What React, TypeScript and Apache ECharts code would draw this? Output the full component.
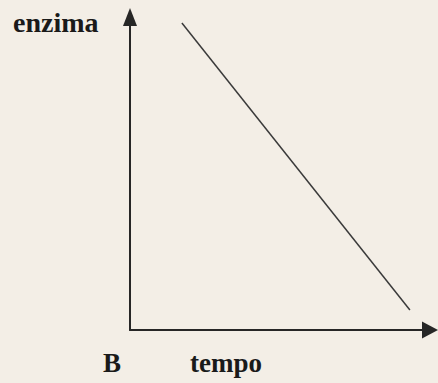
import React, { useEffect, useRef } from "react";
import * as echarts from "echarts";

const xValues = [17.3, 93.3];
const yValues = [98.1, 6.4];
const yLabel = "enzima";
const xLabel = "tempo";
const panelLabel = "B";

export default function App() {
  const ref = useRef<HTMLDivElement>(null);
  useEffect(() => {
    document.body.style.margin = "0";
    const chart = echarts.init(ref.current!, null, { renderer: "svg" });
    chart.setOption({
      animation: false,
      backgroundColor: "#f3eee6",
      grid: { left: 130, top: 17, right: 8, bottom: 53 },
      xAxis: {
        type: "value",
        min: 0,
        max: 100,
        axisLine: {
          show: true,
          onZero: false,
          symbol: ["none", "triangle"],
          symbolSize: [17, 16],
          lineStyle: { color: "#262626", width: 2 },
        },
        axisTick: { show: false },
        axisLabel: { show: false },
        splitLine: { show: false },
      },
      yAxis: {
        type: "value",
        min: 0,
        max: 100,
        axisLine: {
          show: true,
          onZero: false,
          symbol: ["none", "triangle"],
          symbolSize: [14, 18],
          lineStyle: { color: "#262626", width: 2 },
        },
        axisTick: { show: false },
        axisLabel: { show: false },
        splitLine: { show: false },
      },
      series: [
        {
          type: "line",
          data: xValues.map((x, i) => [x, yValues[i]]),
          showSymbol: false,
          lineStyle: { color: "#3a3a3a", width: 1.5 },
        },
      ],
      graphic: [
        {
          type: "text",
          x: 13,
          y: 22.5,
          style: { text: yLabel, font: "bold 28px 'Liberation Serif', serif", fill: "#1a1a1a", verticalAlign: "middle", align: "left" },
        },
        {
          type: "text",
          x: 103,
          y: 363,
          style: { text: panelLabel, font: "bold 27px 'Liberation Serif', serif", fill: "#1a1a1a", verticalAlign: "middle", align: "left" },
        },
        {
          type: "text",
          x: 190,
          y: 363,
          style: { text: xLabel, font: "bold 27px 'Liberation Serif', serif", fill: "#1a1a1a", verticalAlign: "middle", align: "left" },
        },
      ],
    });
    return () => chart.dispose();
  }, []);
  return <div ref={ref} style={{ width: 438, height: 383 }} />;
}
